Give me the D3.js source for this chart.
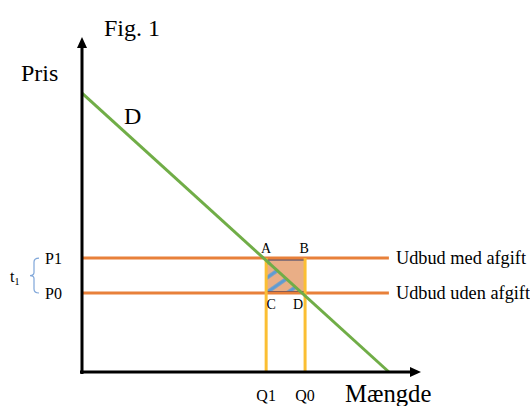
<!DOCTYPE html>
<html><head><meta charset="utf-8">
<script src="https://cdn.jsdelivr.net/npm/d3@7"></script>
<style>body{margin:0;background:#fff}svg{display:block}text{font-family:"Liberation Serif","Times New Roman",serif;fill:#000}</style>
</head><body><svg id="c" width="530" height="406"></svg>
<script>
// Data (arbitrary units)
const demand = [{q:0,p:84},{q:93,p:0}];
const prices = [{name:"P1",p:34.3,label:"Udbud med afgift"},{name:"P0",p:23.8,label:"Udbud uden afgift"}];
const quantities = [{name:"Q1",q:55.8},{name:"Q0",q:67.6}];
const lineEndQ = 93;
const pointLabels = ["A","B","C","D"];

const svg = d3.select("#c");
const x = d3.scaleLinear().domain([0,100]).range([82,412]);
const y = d3.scaleLinear().domain([0,100]).range([372,40]);

const P1 = prices[0].p, P0 = prices[1].p, Q1 = quantities[0].q, Q0 = quantities[1].q;
const dq = p => demand[0].q + (p-demand[0].p)*(demand[1].q-demand[0].q)/(demand[1].p-demand[0].p);

// pattern
const defs = svg.append("defs");
const pat = defs.append("pattern").attr("id","hatch").attr("patternUnits","userSpaceOnUse")
  .attr("width",40).attr("height",12)
  .attr("patternTransform",`translate(${x(Q1)},${y(P0)}) rotate(-35)`);
[0,12].forEach(v=>pat.append("line").attr("x1",0).attr("y1",v).attr("x2",40).attr("y2",v).attr("stroke","#5b9bd5").attr("stroke-width",3.5));

// fill rect
svg.append("rect").attr("x",x(Q1)).attr("y",y(P1)).attr("width",x(Q0)-x(Q1)).attr("height",y(P0)-y(P1))
  .attr("fill","#e9ae86");
// hatch triangle
const tri = [[Q1,P1],[Q1,P0],[dq(P0),P0]];
svg.append("path").attr("d",d3.line().x(d=>x(d[0])).y(d=>y(d[1]))(tri)+"Z").attr("fill","url(#hatch)");
// navy lines
svg.append("line").attr("x1",x(Q1)).attr("x2",x(Q0)).attr("y1",y(P1)+1.8).attr("y2",y(P1)+1.8).attr("stroke","#2f3b6b").attr("stroke-width",1.2);
svg.append("line").attr("x1",x(Q1)).attr("x2",x(Q0)).attr("y1",y(P0)-1.5).attr("y2",y(P0)-1.5).attr("stroke","#2f3b6b").attr("stroke-width",1.2);

// price lines
svg.selectAll(".pl").data(prices).enter().append("line")
  .attr("x1",x(0)).attr("x2",x(lineEndQ)).attr("y1",d=>y(d.p)).attr("y2",d=>y(d.p))
  .attr("stroke","#e8803a").attr("stroke-width",3);
// quantity lines
svg.selectAll(".ql").data(quantities).enter().append("line")
  .attr("x1",d=>x(d.q)).attr("x2",d=>x(d.q)).attr("y1",y(P1)).attr("y2",y(0))
  .attr("stroke","#fbbf33").attr("stroke-width",3);
// demand
svg.append("path").attr("d",d3.line().x(d=>x(d.q)).y(d=>y(d.p))(demand))
  .attr("stroke","#70ad47").attr("stroke-width",3).attr("fill","none");

// axes
svg.append("line").attr("x1",82).attr("x2",82).attr("y1",y(0)+2).attr("y2",46).attr("stroke","#000").attr("stroke-width",3);
svg.append("path").attr("d","M82,37 L77,48 L87,48 Z").attr("fill","#000");
svg.append("line").attr("x1",80).attr("x2",412).attr("y1",y(0)).attr("y2",y(0)).attr("stroke","#000").attr("stroke-width",3);
svg.append("path").attr("d","M421,372 L410,367 L410,377 Z").attr("fill","#000");

// texts
svg.append("text").attr("x",104).attr("y",36).attr("font-size",24).text("Fig. 1");
svg.append("text").attr("x",21).attr("y",81).attr("font-size",24).text("Pris");
svg.append("text").attr("x",124).attr("y",124).attr("font-size",24).text("D");
svg.selectAll(".pn").data(prices).enter().append("text")
  .attr("x",45).attr("y",d=>y(d.p)+6).attr("font-size",16).text(d=>d.name);
svg.selectAll(".plab").data(prices).enter().append("text")
  .attr("x",396).attr("y",d=>y(d.p)+6).attr("font-size",18.3).text(d=>d.label);
svg.selectAll(".qn").data(quantities).enter().append("text")
  .attr("x",d=>x(d.q)).attr("y",401).attr("text-anchor","middle").attr("font-size",16).text(d=>d.name);
svg.append("text").attr("x",345).attr("y",402).attr("font-size",24.7).text("Mængde");
// point labels
const pts = [[Q1,P1,0,-5],[Q0,P1,-1,-5],[Q1,P0,5,16],[Q0,P0,-7,16]];
svg.selectAll(".pt").data(pts).enter().append("text")
  .attr("x",(d,i)=>x(d[0])+d[2]).attr("y",d=>y(d[1])+d[3]).attr("text-anchor","middle").attr("font-size",14)
  .text((d,i)=>pointLabels[i]);
// t1 + brace
const t = svg.append("text").attr("x",10).attr("y",y((P1+P0)/2)+6).attr("font-size",16);
t.append("tspan").text("t");
t.append("tspan").attr("font-size",10).attr("dy",3).text("1");
const yt=y(P1), yb=y(P0), ym=(yt+yb)/2;
svg.append("path").attr("d",`M39,${yt} Q34,${yt} 34,${yt+4} L34,${ym-3} Q34,${ym} 30,${ym} Q34,${ym} 34,${ym+3} L34,${yb-4} Q34,${yb} 39,${yb}`)
  .attr("fill","none").attr("stroke","#7fa6d9").attr("stroke-width",1.2);
</script></body></html>
